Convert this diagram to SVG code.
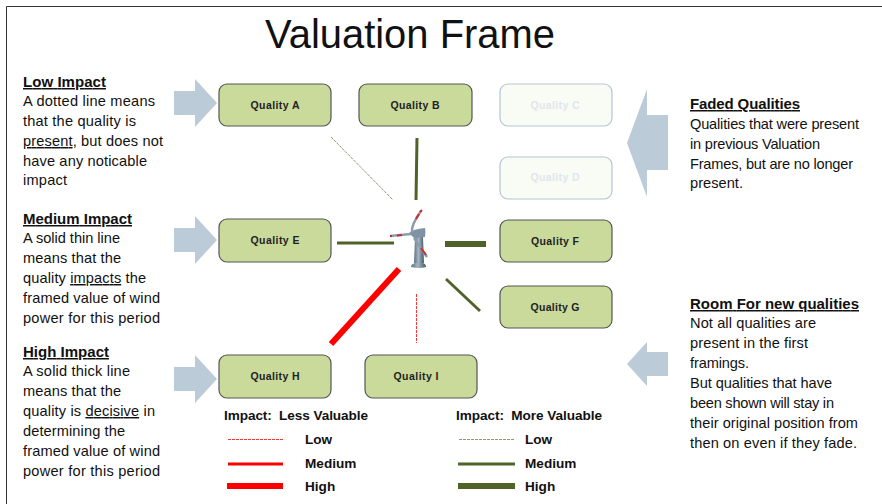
<svg xmlns="http://www.w3.org/2000/svg" width="882" height="504" viewBox="0 0 882 504">
<defs>
<linearGradient id="steel" x1="0" y1="0" x2="1" y2="0"><stop offset="0" stop-color="#5d7284"/><stop offset=".45" stop-color="#a5b5c2"/><stop offset="1" stop-color="#46596a"/></linearGradient>
</defs>
<style>
text{font-family:"Liberation Sans",Arial,sans-serif;fill:#111}
.b{font-size:14.6px}
.h{font-size:15px;font-weight:bold;text-decoration:underline}
.q{font-size:10.5px;font-weight:bold;text-anchor:middle;fill:#222}
.n{fill:#c9da9b;stroke:#555;stroke-width:1.2}
.f{fill:#f9fcf4;stroke:#b4c5d3;stroke-width:1.2}
.q.ft{fill:#dfe6ec}
.ar{fill:#bccbd8}
.l{font-size:13.600px;font-weight:bold}
.g{stroke:#4f6228;fill:none}
.r{stroke:#f00;fill:none}
.gl{stroke:#8b9a6e;fill:none;stroke-width:1;stroke-dasharray:3 1}
.rl{stroke:#f33;fill:none;stroke-width:1;stroke-dasharray:3 1}
.bl{stroke:#8b9dac;stroke-width:2.500;fill:none}
.tip{stroke:#cf2a2a;stroke-width:2;fill:none}
</style>
<rect width="882" height="504" fill="#fff"/>
<path d="M6.500 504V6.500H882" fill="none" stroke="#333" stroke-width="1"/>
<text x="265" y="48" font-size="40" textLength="290" lengthAdjust="spacingAndGlyphs">Valuation Frame</text>
<g id="arrows">
<path class="ar" d="M174 91H195V79L217 103L195 127V115H174Z"/>
<path class="ar" d="M174 228H195V216L217 240L195 264V252H174Z"/>
<path class="ar" d="M174 367H195V355L217 379L195 403V391H174Z"/>
<path class="ar" d="M668 115H647V89L627 143L647 197V170H668Z"/>
<path class="ar" d="M668 352H647V342L627 364L647 386V376H668Z"/>
</g>
<g id="connectors">
<path class="gl" d="M331 137L393 200"/>
<path class="g" d="M417 138L416 200" stroke-width="3"/>
<path class="g" d="M337 243H394" stroke-width="3"/>
<path class="g" d="M445 244H486" stroke-width="6"/>
<path class="g" d="M446 279L480 311" stroke-width="3"/>
<path class="r" d="M399 269L331 344" stroke-width="6"/>
<path class="rl" d="M416.500 294V343"/>
</g>
<g id="turbine">
<path d="M415 237H423L424 263H414Z" fill="url(#steel)"/>
<path d="M411 267Q411 264 415 263H423Q426 264 426 267Q419 269 411 267Z" fill="url(#steel)"/>
<path d="M409 233Q413 229 425 228Q426 232 425 237L414 238Z" fill="#7f93a4"/>
<path class="bl" d="M412 232Q411 225 421 211"/>
<path class="tip" d="M416 219L419 214M420 212L422 210"/>
<path class="bl" d="M411 234L390 236" stroke="#a4b3be"/>
<path class="tip" d="M402 235L397 235.500M392 236L390 236"/>
<path class="bl" d="M414 238L427 257"/>
<path class="tip" d="M421 248L426 255"/>
</g>
<g id="quality-a"><rect class="n" x="219" y="84" width="112" height="42" rx="8"/><text class="q" x="275" y="109" textLength="49">Quality A</text></g>
<g id="quality-b"><rect class="n" x="359" y="84" width="113" height="42" rx="8"/><text class="q" x="415" y="109" textLength="49">Quality B</text></g>
<g id="quality-c"><rect class="f" x="500" y="84" width="112" height="42" rx="8"/><text class="q ft" x="555" y="109" textLength="49">Quality C</text></g>
<g id="quality-d"><rect class="f" x="500" y="157" width="112" height="42" rx="8"/><text class="q ft" x="555" y="181" textLength="49">Quality D</text></g>
<g id="quality-e"><rect class="n" x="219" y="219" width="112" height="43" rx="8"/><text class="q" x="275" y="244" textLength="49">Quality E</text></g>
<g id="quality-f"><rect class="n" x="500" y="220" width="112" height="42" rx="8"/><text class="q" x="555" y="245" textLength="48">Quality F</text></g>
<g id="quality-g"><rect class="n" x="500" y="286" width="112" height="42" rx="8"/><text class="q" x="555" y="311" textLength="49">Quality G</text></g>
<g id="quality-h"><rect class="n" x="219" y="355" width="112" height="43" rx="8"/><text class="q" x="275" y="380" textLength="49">Quality H</text></g>
<g id="quality-i"><rect class="n" x="365" y="355" width="112" height="43" rx="8"/><text class="q" x="416" y="380" textLength="45">Quality I</text></g>
<g id="low-impact">
<text class="h" x="23" y="87" textLength="83">Low Impact</text>
<text class="b" x="23" y="106" textLength="132">A dotted line means</text>
<text class="b" x="23" y="126" textLength="113">that the quality is</text>
<text class="b" x="23" y="146" textLength="140"><tspan text-decoration="underline">present</tspan>, but does not</text>
<text class="b" x="23" y="166" textLength="124">have any noticable</text>
<text class="b" x="23" y="185" textLength="44">impact</text>
</g>
<g id="medium-impact">
<text class="h" x="23" y="224" textLength="109">Medium Impact</text>
<text class="b" x="23" y="243" textLength="97">A solid thin line</text>
<text class="b" x="23" y="263" textLength="98">means that the</text>
<text class="b" x="23" y="283" textLength="123">quality <tspan text-decoration="underline">impacts</tspan> the</text>
<text class="b" x="23" y="303" textLength="137">framed value of wind</text>
<text class="b" x="23" y="323" textLength="137">power for this period</text>
</g>
<g id="high-impact">
<text class="h" x="23" y="357" textLength="86">High Impact</text>
<text class="b" x="23" y="376" textLength="107">A solid thick line</text>
<text class="b" x="23" y="396" textLength="98">means that the</text>
<text class="b" x="23" y="416" textLength="132">quality is <tspan text-decoration="underline">decisive</tspan> in</text>
<text class="b" x="23" y="436" textLength="102">determining the</text>
<text class="b" x="23" y="456" textLength="137">framed value of wind</text>
<text class="b" x="23" y="476" textLength="137">power for this period</text>
</g>
<g id="faded-qualities">
<text class="h" x="690" y="109" textLength="110">Faded Qualities</text>
<text class="b" x="690" y="129" textLength="169">Qualities that were present</text>
<text class="b" x="690" y="149" textLength="130">in previous Valuation</text>
<text class="b" x="690" y="169" textLength="163">Frames, but are no longer</text>
<text class="b" x="690" y="188" textLength="53">present.</text>
</g>
<g id="room">
<text class="h" x="690" y="309" textLength="169">Room For new qualities</text>
<text class="b" x="690" y="328" textLength="126">Not all qualities are</text>
<text class="b" x="690" y="348" textLength="118">present in the first</text>
<text class="b" x="690" y="368" textLength="59">framings.</text>
<text class="b" x="690" y="388" textLength="142">But qualities that have</text>
<text class="b" x="690" y="408" textLength="144">been shown will stay in</text>
<text class="b" x="690" y="428" textLength="168">their original position from</text>
<text class="b" x="690" y="448" textLength="167">then on even if they fade.</text>
</g>
<g id="legend">
<text class="l" x="224" y="420" textLength="144" xml:space="preserve">Impact:  Less Valuable</text>
<text class="l" x="456" y="420" textLength="146" xml:space="preserve">Impact:  More Valuable</text>
<path class="rl" d="M228 439.500H283"/>
<path class="r" d="M228 464H283" stroke-width="3"/>
<path class="r" d="M227 486H283" stroke-width="6"/>
<path class="gl" d="M459 439.500H515"/>
<path class="g" d="M458 464H515" stroke-width="3"/>
<path class="g" d="M458 486H515" stroke-width="6"/>
<text class="l" x="305" y="444">Low</text>
<text class="l" x="305" y="468">Medium</text>
<text class="l" x="305" y="491">High</text>
<text class="l" x="525" y="444">Low</text>
<text class="l" x="525" y="468">Medium</text>
<text class="l" x="525" y="491">High</text>
</g>
</svg>
